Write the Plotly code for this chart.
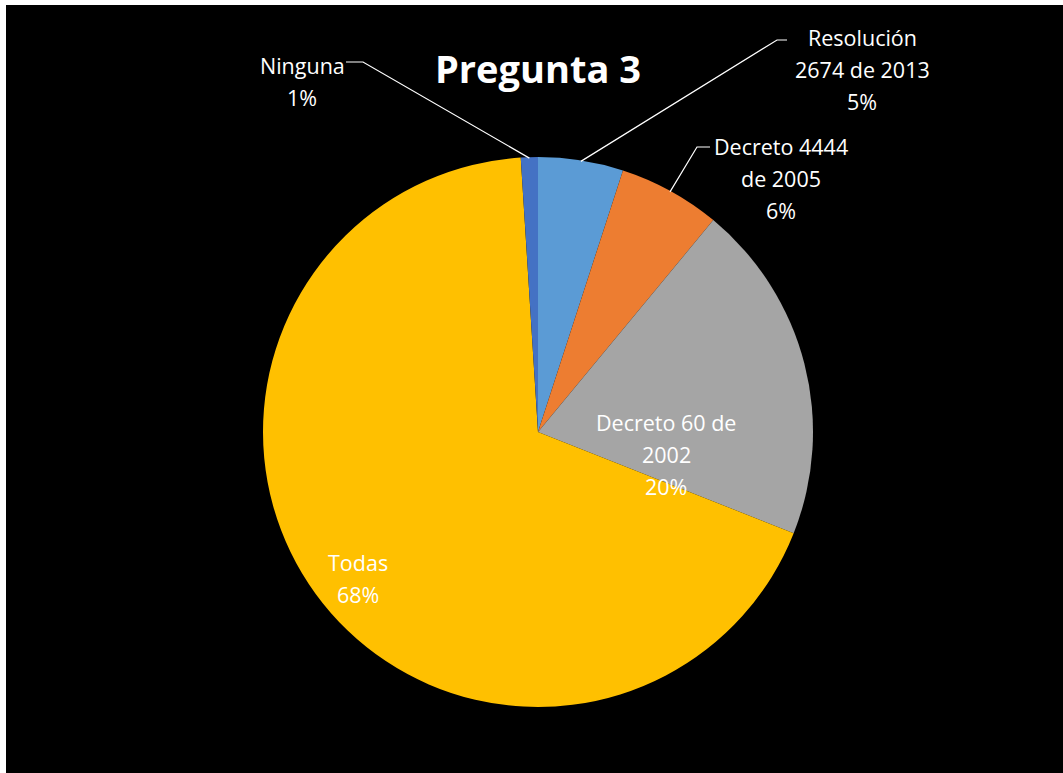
import math
import plotly.graph_objects as go

# ---- data ----
categories = ["Resolución 2674 de 2013", "Decreto 4444 de 2005", "Decreto 60 de 2002", "Todas", "Ninguna"]
values = [5, 6, 20, 68, 1]
colors = ["#5B9BD5", "#ED7D31", "#A5A5A5", "#FFC000", "#4472C4"]
label_lines = [["Resolución", "2674 de 2013"], ["Decreto 4444", "de 2005"],
               ["Decreto 60 de", "2002"], ["Todas"], ["Ninguna"]]
title_text = "Pregunta 3"

# ---- layout helpers (page pixels -> paper fractions) ----
W, H = 1063, 773
def px(x): return x / W
def py(y): return 1 - y / H

CX, CY, R = 538, 432, 275

fig = go.Figure(go.Pie(
    labels=categories, values=values, sort=False, direction="clockwise", rotation=0,
    marker=dict(colors=colors, line=dict(width=0)), textinfo="none",
    domain=dict(x=[px(CX - R), px(CX + R)], y=[py(CY + R), py(CY - R)]),
    showlegend=False, hoverinfo="label+percent",
))

# label placement (line-center x, first-line y), line step
label_pos = [(862, 38), (781, 147), (666, 423), (358, 562), (302, 65)]
LINE_STEP = 32
total = sum(values)
font = dict(family="Open Sans, sans-serif", size=21.5, color="white")

annotations = []
for lines, v, (lx, ly) in zip(label_lines, values, label_pos):
    pct = f"{round(v / total * 100)}%"
    for i, t in enumerate(lines + [pct]):
        annotations.append(dict(x=px(lx), y=py(ly + i * LINE_STEP), xref="paper", yref="paper",
                                text=t, showarrow=False, font=font, xanchor="center", yanchor="middle"))

annotations.append(dict(x=px(538), y=py(68), xref="paper", yref="paper", text="<b>" + title_text + "</b>",
                        showarrow=False, font=dict(family="Open Sans, sans-serif", size=38, color="white"),
                        xanchor="center", yanchor="middle"))

# leader lines: label end -> elbow -> slice mid-point on pie edge
leader_elbows = {0: [(787, 40), (777, 40)], 1: [(710, 147), (697, 147)], 4: [(346, 62), (363, 62)]}
shapes = []
cum = 0
mids = []
for v in values:
    mids.append((cum + v / 2) / total)
    cum += v
for idx, pts in leader_elbows.items():
    ang = mids[idx] * 2 * math.pi
    ex = CX + (R - 1) * math.sin(ang)
    ey = CY - (R - 1) * math.cos(ang)
    path_pts = pts + [(ex, ey)]
    path = "M " + " L ".join(f"{px(x)},{py(y)}" for x, y in path_pts)
    shapes.append(dict(type="path", path=path, xref="paper", yref="paper",
                       line=dict(color="white", width=1.2), layer="above"))

# white strips at top and left edges
shapes.append(dict(type="rect", xref="paper", yref="paper", x0=0, x1=1, y0=py(5), y1=1,
                   fillcolor="white", line=dict(width=0), layer="above"))
shapes.append(dict(type="rect", xref="paper", yref="paper", x0=0, x1=px(6), y0=0, y1=1,
                   fillcolor="white", line=dict(width=0), layer="above"))

fig.update_layout(width=W, height=H, margin=dict(l=0, r=0, t=0, b=0),
                  paper_bgcolor="black", plot_bgcolor="black",
                  annotations=annotations, shapes=shapes)

fig.write_html("out.html")
